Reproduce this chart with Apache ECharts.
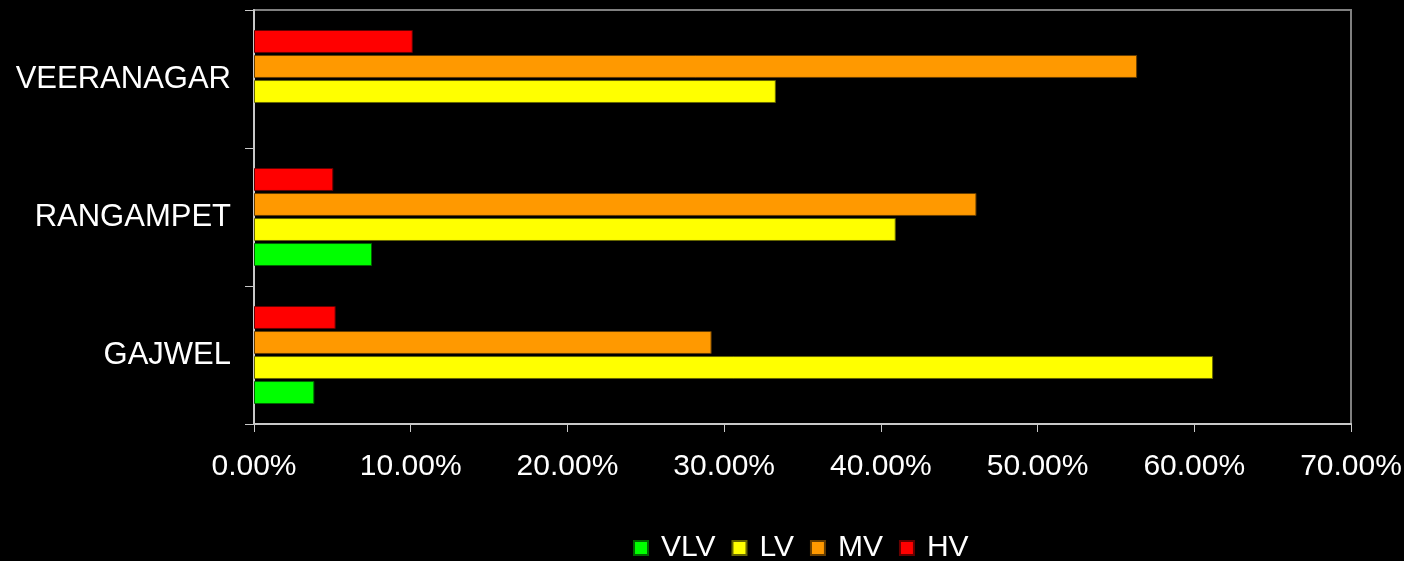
<!DOCTYPE html>
<html>
<head>
<meta charset="utf-8">
<script src="https://cdn.jsdelivr.net/npm/echarts@6/dist/echarts.min.js"></script>
<style>
  html, body { margin: 0; padding: 0; background: #000; }
  #chart { width: 1404px; height: 561px; }
</style>
</head>
<body>
<div id="chart"></div>
<script>
// categories, bottom to top
const villages = ["GAJWEL", "RANGAMPET", "VEERANAGAR"];
const seriesNames = ["VLV", "LV", "MV", "HV"];
// values in percent
const vlv = [3.85, 7.53, 0];
const lv = [61.2, 40.95, 33.3];
const mv = [29.2, 46.1, 56.35];
const hv = [5.21, 5.06, 10.13];
const xTicks = [0, 10, 20, 30, 40, 50, 60, 70];

const colors = ["#00ff00", "#ffff00", "#ff9900", "#ff0000"];
const borders = ["#006600", "#666600", "#663d00", "#660000"];
const values = [vlv, lv, mv, hv];

let chart = echarts.init(document.getElementById("chart"));

// echarts stacks the first series at the top, so add them reversed (HV first)
const series = seriesNames.map(function (name, i) {
  return {
    name: name,
    type: "bar",
    barGap: "9%",
    barCategoryGap: "29%",
    // zero value: no bar drawn
    data: values[i].map(function (v) { return v === 0 ? null : v; }),
    itemStyle: { color: colors[i], borderColor: borders[i], borderWidth: 1 },
  };
}).reverse();

chart.setOption({
  backgroundColor: "#000000",
  animation: false,
  textStyle: { fontFamily: "Liberation Sans, Arial, sans-serif" },
  grid: {
    left: 254,
    right: 53,
    top: 10,
    bottom: 137,
    outerBoundsMode: "none",
    show: true,
    borderColor: "#808080",
    borderWidth: 2,
  },
  legend: {
    data: seriesNames,
    top: 533,
    left: 633,
    padding: 0,
    itemWidth: 14,
    itemHeight: 14,
    itemGap: 16,
    icon: "rect",
    textStyle: { color: "#ffffff", fontSize: 30, padding: [0, 0, 10, 8] },
  },
  xAxis: {
    type: "value",
    min: xTicks[0],
    max: xTicks[xTicks.length - 1],
    interval: 10,
    axisLine: { show: true, lineStyle: { color: "#c8c8c8", width: 2 } },
    axisTick: { show: true, length: 8, lineStyle: { color: "#c8c8c8", width: 1 } },
    splitLine: { show: false },
    axisLabel: {
      color: "#ffffff",
      fontSize: 30,
      margin: 28,
      formatter: function (v) { return v.toFixed(2) + "%"; },
    },
  },
  yAxis: {
    type: "category",
    data: villages,
    axisLine: { show: true, lineStyle: { color: "#c8c8c8", width: 2 } },
    axisTick: { show: true, length: 9, lineStyle: { color: "#c8c8c8", width: 1 } },
    axisLabel: { color: "#ffffff", fontSize: 31, margin: 23 },
  },
  series: series,
});
</script>
</body>
</html>
